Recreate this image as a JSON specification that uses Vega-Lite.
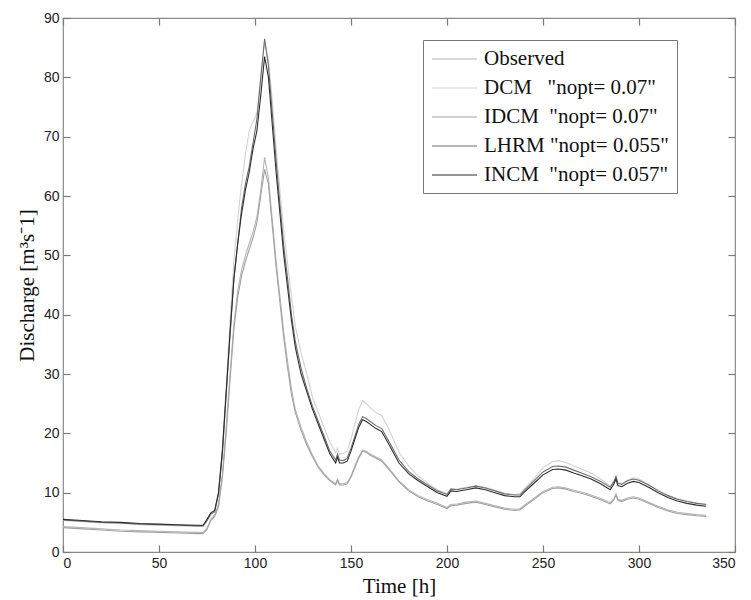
{
  "$schema": "https://vega.github.io/schema/vega-lite/v6.json",
  "width": 672,
  "height": 534,
  "autosize": {"type": "none"},
  "padding": {"left": 63, "top": 18, "right": 16, "bottom": 48},
  "background": "white",
  "config": {
    "view": {"stroke": "#8a8a8a", "strokeWidth": 1.2},
    "axis": {"grid": false, "domain": false, "tickColor": "#7a7a7a", "tickWidth": 1.2, "labelFont": "Liberation Sans", "labelFontSize": 14, "labelColor": "#222", "titleFont": "Liberation Serif", "titleFontWeight": "normal", "titleFontSize": 21, "titleColor": "#111"}
  },
  "data": {"values": [
    {"t":0,"INCM":5.5,"LHRM":5.4,"DCM":5.3,"Observed":4.3,"IDCM":4.1},
    {"t":10,"INCM":5.3,"LHRM":5.2,"DCM":5.1,"Observed":4.1,"IDCM":3.9},
    {"t":20,"INCM":5.1,"LHRM":5.0,"DCM":4.9,"Observed":3.9,"IDCM":3.7},
    {"t":30,"INCM":5.0,"LHRM":4.9,"DCM":4.8,"Observed":3.7,"IDCM":3.5},
    {"t":40,"INCM":4.8,"LHRM":4.7,"DCM":4.6,"Observed":3.6,"IDCM":3.4},
    {"t":50,"INCM":4.7,"LHRM":4.6,"DCM":4.5,"Observed":3.5,"IDCM":3.3},
    {"t":60,"INCM":4.6,"LHRM":4.5,"DCM":4.4,"Observed":3.4,"IDCM":3.2},
    {"t":70,"INCM":4.5,"LHRM":4.4,"DCM":4.3,"Observed":3.3,"IDCM":3.1},
    {"t":73,"INCM":4.5,"LHRM":4.4,"DCM":4.3,"Observed":3.3,"IDCM":3.1},
    {"t":75,"INCM":5.5,"LHRM":5.3,"DCM":5.2,"Observed":4.0,"IDCM":3.8},
    {"t":77,"INCM":6.6,"LHRM":6.4,"DCM":6.3,"Observed":5.5,"IDCM":5.3},
    {"t":79,"INCM":7.0,"LHRM":6.8,"DCM":6.8,"Observed":6.3,"IDCM":6.0},
    {"t":81,"INCM":10.0,"LHRM":9.8,"DCM":10.2,"Observed":8.0,"IDCM":7.6},
    {"t":83,"INCM":17,"LHRM":16.5,"DCM":17.5,"Observed":13,"IDCM":12.5},
    {"t":85,"INCM":27,"LHRM":26.5,"DCM":28,"Observed":21,"IDCM":20},
    {"t":87,"INCM":37,"LHRM":36.5,"DCM":39,"Observed":30,"IDCM":29},
    {"t":89,"INCM":46,"LHRM":46,"DCM":49,"Observed":38.5,"IDCM":37.5},
    {"t":91,"INCM":52,"LHRM":52,"DCM":56,"Observed":44,"IDCM":43},
    {"t":93,"INCM":57,"LHRM":58,"DCM":62,"Observed":47.5,"IDCM":46.5},
    {"t":95,"INCM":61,"LHRM":62,"DCM":67,"Observed":50,"IDCM":49},
    {"t":97,"INCM":64,"LHRM":65,"DCM":71,"Observed":52,"IDCM":51},
    {"t":99,"INCM":68,"LHRM":69,"DCM":72.5,"Observed":54,"IDCM":53},
    {"t":101,"INCM":71,"LHRM":73,"DCM":74,"Observed":56.5,"IDCM":55.5},
    {"t":103,"INCM":77,"LHRM":80,"DCM":80,"Observed":61,"IDCM":60},
    {"t":105,"INCM":83.5,"LHRM":86.5,"DCM":85.8,"Observed":66.5,"IDCM":64.5},
    {"t":107,"INCM":80,"LHRM":82,"DCM":83,"Observed":63,"IDCM":62},
    {"t":109,"INCM":72,"LHRM":74,"DCM":76,"Observed":56,"IDCM":55},
    {"t":111,"INCM":64,"LHRM":66,"DCM":68,"Observed":49,"IDCM":48},
    {"t":113,"INCM":57,"LHRM":58.5,"DCM":61,"Observed":43,"IDCM":42},
    {"t":115,"INCM":50,"LHRM":51.5,"DCM":54,"Observed":37,"IDCM":36},
    {"t":117,"INCM":44.5,"LHRM":46,"DCM":48.5,"Observed":32,"IDCM":31},
    {"t":119,"INCM":39,"LHRM":40,"DCM":43,"Observed":27.5,"IDCM":26.5},
    {"t":121,"INCM":34.5,"LHRM":35.5,"DCM":38,"Observed":24,"IDCM":23.5},
    {"t":124,"INCM":30,"LHRM":31,"DCM":33.5,"Observed":21,"IDCM":20.5},
    {"t":127,"INCM":27,"LHRM":27.5,"DCM":30,"Observed":18.5,"IDCM":18},
    {"t":130,"INCM":24,"LHRM":24.5,"DCM":26,"Observed":16.3,"IDCM":16},
    {"t":133,"INCM":21.5,"LHRM":22,"DCM":23.5,"Observed":14.5,"IDCM":14.2},
    {"t":136,"INCM":19,"LHRM":19.5,"DCM":21,"Observed":13.2,"IDCM":13},
    {"t":139,"INCM":16.5,"LHRM":17,"DCM":18.5,"Observed":12.2,"IDCM":12},
    {"t":142,"INCM":15,"LHRM":15.5,"DCM":16.7,"Observed":11.5,"IDCM":11.3},
    {"t":143,"INCM":16,"LHRM":16.5,"DCM":17.5,"Observed":12.3,"IDCM":12.1},
    {"t":144,"INCM":15,"LHRM":15.5,"DCM":16.5,"Observed":11.5,"IDCM":11.3},
    {"t":146,"INCM":15,"LHRM":15.4,"DCM":16.6,"Observed":11.5,"IDCM":11.3},
    {"t":148,"INCM":15.3,"LHRM":15.8,"DCM":17,"Observed":11.7,"IDCM":11.5},
    {"t":150,"INCM":17,"LHRM":17.5,"DCM":19,"Observed":12.8,"IDCM":12.6},
    {"t":152,"INCM":19,"LHRM":19.5,"DCM":21.5,"Observed":14.5,"IDCM":14.2},
    {"t":154,"INCM":21,"LHRM":21.5,"DCM":24,"Observed":16,"IDCM":15.8},
    {"t":156,"INCM":22.3,"LHRM":22.8,"DCM":25.5,"Observed":17.2,"IDCM":17},
    {"t":158,"INCM":22,"LHRM":22.5,"DCM":25,"Observed":17,"IDCM":16.8},
    {"t":160,"INCM":21.5,"LHRM":22,"DCM":24.3,"Observed":16.5,"IDCM":16.3},
    {"t":163,"INCM":20.8,"LHRM":21.3,"DCM":23.5,"Observed":16,"IDCM":15.8},
    {"t":166,"INCM":20.3,"LHRM":20.8,"DCM":23,"Observed":15.5,"IDCM":15.3},
    {"t":170,"INCM":18,"LHRM":18.5,"DCM":20.5,"Observed":14,"IDCM":13.8},
    {"t":175,"INCM":15,"LHRM":15.5,"DCM":16.8,"Observed":12,"IDCM":11.8},
    {"t":180,"INCM":13.2,"LHRM":13.6,"DCM":14.5,"Observed":10.5,"IDCM":10.3},
    {"t":185,"INCM":12,"LHRM":12.3,"DCM":12.8,"Observed":9.5,"IDCM":9.3},
    {"t":190,"INCM":11,"LHRM":11.3,"DCM":11.6,"Observed":8.8,"IDCM":8.6},
    {"t":195,"INCM":10,"LHRM":10.3,"DCM":10.5,"Observed":8.2,"IDCM":8.0},
    {"t":200,"INCM":9.4,"LHRM":9.7,"DCM":9.8,"Observed":7.5,"IDCM":7.3},
    {"t":202,"INCM":10.3,"LHRM":10.6,"DCM":10.7,"Observed":8.0,"IDCM":7.8},
    {"t":205,"INCM":10.2,"LHRM":10.5,"DCM":10.6,"Observed":8.1,"IDCM":7.9},
    {"t":210,"INCM":10.5,"LHRM":10.8,"DCM":10.9,"Observed":8.4,"IDCM":8.2},
    {"t":215,"INCM":10.8,"LHRM":11.1,"DCM":11.2,"Observed":8.6,"IDCM":8.4},
    {"t":220,"INCM":10.5,"LHRM":10.8,"DCM":10.9,"Observed":8.2,"IDCM":8.0},
    {"t":225,"INCM":10,"LHRM":10.3,"DCM":10.4,"Observed":7.8,"IDCM":7.6},
    {"t":230,"INCM":9.5,"LHRM":9.8,"DCM":9.9,"Observed":7.4,"IDCM":7.2},
    {"t":235,"INCM":9.3,"LHRM":9.6,"DCM":9.7,"Observed":7.2,"IDCM":7.0},
    {"t":238,"INCM":9.3,"LHRM":9.6,"DCM":9.8,"Observed":7.3,"IDCM":7.1},
    {"t":240,"INCM":10,"LHRM":10.3,"DCM":10.5,"Observed":7.8,"IDCM":7.6},
    {"t":245,"INCM":11.5,"LHRM":11.9,"DCM":12.3,"Observed":9.0,"IDCM":8.8},
    {"t":250,"INCM":13,"LHRM":13.5,"DCM":14.2,"Observed":10.2,"IDCM":10.0},
    {"t":255,"INCM":13.9,"LHRM":14.4,"DCM":15.2,"Observed":10.9,"IDCM":10.7},
    {"t":258,"INCM":14,"LHRM":14.5,"DCM":15.4,"Observed":11.0,"IDCM":10.8},
    {"t":262,"INCM":13.8,"LHRM":14.3,"DCM":15.1,"Observed":10.8,"IDCM":10.6},
    {"t":266,"INCM":13.3,"LHRM":13.8,"DCM":14.5,"Observed":10.4,"IDCM":10.2},
    {"t":270,"INCM":12.9,"LHRM":13.3,"DCM":14,"Observed":10.1,"IDCM":9.9},
    {"t":275,"INCM":12.3,"LHRM":12.7,"DCM":13.3,"Observed":9.6,"IDCM":9.4},
    {"t":280,"INCM":11.5,"LHRM":11.9,"DCM":12.3,"Observed":9,"IDCM":8.8},
    {"t":285,"INCM":10.5,"LHRM":10.9,"DCM":11.1,"Observed":8.3,"IDCM":8.1},
    {"t":287,"INCM":11.5,"LHRM":11.9,"DCM":12,"Observed":9,"IDCM":8.8},
    {"t":288,"INCM":12.3,"LHRM":12.7,"DCM":12.8,"Observed":9.8,"IDCM":9.6},
    {"t":289,"INCM":11.2,"LHRM":11.6,"DCM":11.7,"Observed":8.9,"IDCM":8.7},
    {"t":291,"INCM":11.0,"LHRM":11.4,"DCM":11.5,"Observed":8.7,"IDCM":8.5},
    {"t":294,"INCM":11.6,"LHRM":12,"DCM":12.1,"Observed":9.1,"IDCM":8.9},
    {"t":297,"INCM":11.9,"LHRM":12.3,"DCM":12.5,"Observed":9.3,"IDCM":9.1},
    {"t":300,"INCM":11.7,"LHRM":12.1,"DCM":12.3,"Observed":9.1,"IDCM":8.9},
    {"t":305,"INCM":10.9,"LHRM":11.3,"DCM":11.4,"Observed":8.4,"IDCM":8.2},
    {"t":310,"INCM":10,"LHRM":10.3,"DCM":10.4,"Observed":7.7,"IDCM":7.5},
    {"t":315,"INCM":9.2,"LHRM":9.5,"DCM":9.6,"Observed":7.1,"IDCM":6.9},
    {"t":320,"INCM":8.6,"LHRM":8.9,"DCM":9,"Observed":6.7,"IDCM":6.5},
    {"t":325,"INCM":8.2,"LHRM":8.5,"DCM":8.6,"Observed":6.5,"IDCM":6.3},
    {"t":330,"INCM":7.9,"LHRM":8.2,"DCM":8.3,"Observed":6.3,"IDCM":6.1},
    {"t":335,"INCM":7.7,"LHRM":8.0,"DCM":8.1,"Observed":6.2,"IDCM":6.0}
  ]},
  "transform": [{"fold": ["Observed", "DCM", "IDCM", "LHRM", "INCM"], "as": ["model", "Q"]}],
  "resolve": {"axis": {"x": "independent", "y": "independent"}},
  "layer": [
    {
      "mark": {"type": "line", "strokeWidth": 1.1},
      "encoding": {
        "x": {"field": "t", "type": "quantitative", "scale": {"domain": [0, 350], "nice": false},
              "axis": {"orient": "bottom", "values": [0,50,100,150,200,250,300,350], "tickSize": -7, "labelPadding": 11, "title": "Time [h]", "titlePadding": 5}},
        "y": {"field": "Q", "type": "quantitative", "scale": {"domain": [0, 90], "nice": false},
              "axis": {"orient": "left", "values": [0,10,20,30,40,50,60,70,80,90], "tickSize": -7, "labelPadding": 11, "title": "Discharge [m³s⁻1]", "titlePadding": 6}},
        "color": {"field": "model", "type": "nominal",
          "scale": {"domain": ["Observed", "DCM", "IDCM", "LHRM", "INCM"], "range": ["#b5b5b5", "#d2d2d2", "#a2a2a2", "#6e6e6e", "#2e2e2e"]},
          "legend": {"orient": "none", "legendX": 360, "legendY": 22, "title": null,
            "symbolType": "M-1,0H3.5", "symbolSize": 400, "symbolStrokeWidth": 1.2,
            "labelFont": "Liberation Serif", "labelFontSize": 21, "labelColor": "#111", "labelOffset": 31, "labelLimit": 400,
            "rowPadding": 8, "padding": 8, "strokeColor": "#777", "fillColor": "white",
            "labelExpr": "{'Observed':'Observed','DCM':'DCM\u00a0\u00a0\u00a0\"nopt= 0.07\"','IDCM':'IDCM\u00a0\u00a0\"nopt= 0.07\"','LHRM':'LHRM \"nopt= 0.055\"','INCM':'INCM\u00a0\u00a0\"nopt= 0.057\"'}[datum.label]"}}
      }
    },
    {
      "mark": {"type": "line", "opacity": 0},
      "encoding": {
        "x": {"field": "t", "type": "quantitative", "axis": {"orient": "top", "values": [0,50,100,150,200,250,300,350], "tickSize": -7, "labels": false, "title": null}},
        "y": {"field": "Q", "type": "quantitative", "axis": {"orient": "right", "values": [0,10,20,30,40,50,60,70,80,90], "tickSize": -7, "labels": false, "title": null}}
      }
    }
  ]
}
